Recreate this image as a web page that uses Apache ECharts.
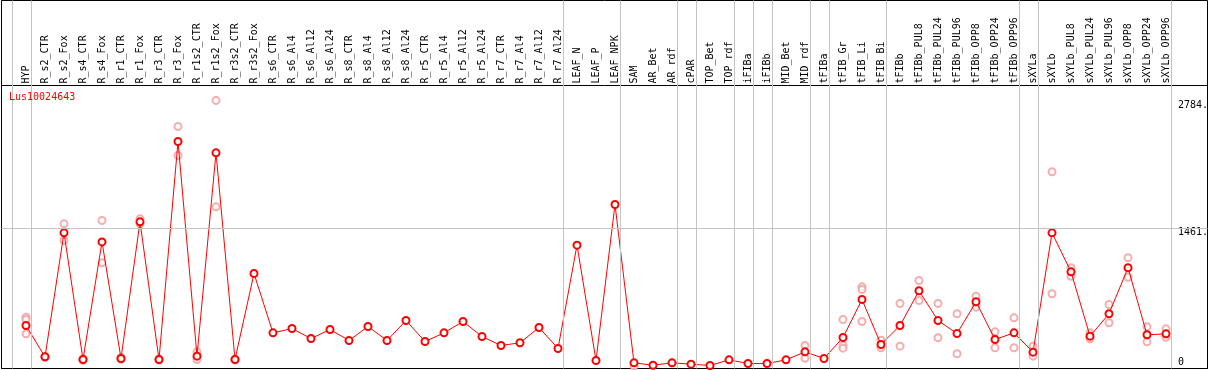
<!DOCTYPE html>
<html>
<head>
<meta charset="utf-8">
<script src="https://cdn.jsdelivr.net/npm/echarts@6/dist/echarts.min.js"></script>
<style>
html,body{margin:0;padding:0;background:#fff;}
#chart{width:1209px;height:370px;}
</style>
</head>
<body>
<div id="chart"></div>
<script>
const geneName = 'Lus10024643';

const categories = ['HYP','R_s2_CTR','R_s2_Fox','R_s4_CTR','R_s4_Fox','R_r1_CTR','R_r1_Fox','R_r3_CTR','R_r3_Fox','R_r1s2_CTR','R_r1s2_Fox','R_r3s2_CTR','R_r3s2_Fox','R_s6_CTR','R_s6_Al4','R_s6_Al12','R_s6_Al24','R_s8_CTR','R_s8_Al4','R_s8_Al12','R_s8_Al24','R_r5_CTR','R_r5_Al4','R_r5_Al12','R_r5_Al24','R_r7_CTR','R_r7_Al4','R_r7_Al12','R_r7_Al24','LEAF_N','LEAF_P','LEAF_NPK','SAM','AR_Bet','AR_rdf','cPAR','TOP_Bet','TOP_rdf','iFIBa','iFIBb','MID_Bet','MID_rdf','tFIBa','tFIB_Gr','tFIB_Li','tFIB_Bi','tFIBb','tFIBb_PUL8','tFIBb_PUL24','tFIBb_PUL96','tFIBb_OPP8','tFIBb_OPP24','tFIBb_OPP96','sXYLa','sXYLb','sXYLb_PUL8','sXYLb_PUL24','sXYLb_PUL96','sXYLb_OPP8','sXYLb_OPP24','sXYLb_OPP96'];

const means = [446,121,1409,93,1315,104,1523,93,2357,128,2240,93,986,370,415,311,405,291,436,291,498,280,370,488,332,239,267,426,208,1281,83,1703,59,34,59,45,31,90,52,52,90,173,104,322,716,249,446,807,498,363,693,301,370,170,1409,1004,336,568,1046,350,360];

const replicates = [
  [533,509,360],[115,128],[1502,1329],[85,100],[1537,1097],[96,112],[1554,1502],[88,98],[2513,2212],[173,93],[2784,1679],[88,98],[],
  [],[],[],[],[],[],[],[],[],[],[],[],[],[],[],[],
  [],[],[],
  [24],[],[],[],[],[],[],[],[],[239,107],
  [],[509,242,211],[848,820,488],[294,215],
  [675,232],[914,706],[675,319],[568,153],[751,637],[381,215],[526,215],
  [232,128],[2043,776],[1046,958],[370,308],[665,475],[1150,948],[433,277],[412,325]
];

const yLabelValues = [0, 1461, 2784];
const referenceValue = 1461;
// index of last category in each group (a separator follows it)
const groupEnds = [-1, 0, 28, 31, 34, 35, 37, 38, 39, 41, 42, 45, 52, 53, 60];

// ---- layout ----
const FONT = 'DejaVu Sans Mono';
const band = 19, firstCenter = 26;
const boxL = 1.5, boxR = 1207.5, boxT = 0.5, boxB = 368.5, headerY = 85.5;
const yMax = 2939;
const vMin = (boxL - firstCenter) / band;
const vMax = (boxR - firstCenter) / band;
const catLeft = firstCenter - band / 2;
const catRight = 1209 - (catLeft + band * categories.length);

const repData = [];
replicates.forEach((arr, i) => arr.forEach(v => repData.push([i, v])));

const chart = echarts.init(document.getElementById('chart'), null, {renderer: 'canvas'});
chart.setOption({
  animation: false,
  backgroundColor: '#fff',
  title: {
    text: geneName, left: 9, top: 92, padding: 0,
    textStyle: {color: '#ff0000', fontFamily: FONT, fontSize: 10, fontWeight: 'normal'}
  },
  grid: [
    {left: boxL, right: 1209 - boxR, top: boxT, bottom: 370 - boxB, show: true, borderColor: '#000', borderWidth: 1, backgroundColor: 'transparent', outerBoundsMode: 'none', containLabel: false},
    {left: boxL, right: 1209 - boxR, top: headerY, bottom: 370 - boxB, show: true, borderColor: '#000', borderWidth: 1, backgroundColor: 'transparent', outerBoundsMode: 'none', containLabel: false},
    {left: catLeft, right: catRight, top: headerY, bottom: 370 - boxB, show: false, outerBoundsMode: 'none', containLabel: false}
  ],
  xAxis: [
    {gridIndex: 0, type: 'value', min: vMin, max: vMax, show: false},
    {gridIndex: 1, type: 'value', min: vMin, max: vMax, show: false},
    {gridIndex: 2, type: 'category', data: categories, position: 'top', boundaryGap: true,
     axisLine: {show: false}, axisTick: {show: false}, splitLine: {show: false},
     axisLabel: {interval: 0, rotate: 90, margin: 2, color: '#000', fontFamily: FONT, fontSize: 10}}
  ],
  yAxis: [
    {gridIndex: 0, type: 'value', min: 0, max: 1, show: false},
    {gridIndex: 1, type: 'value', min: 0, max: yMax, position: 'right',
     axisLine: {show: false}, axisTick: {show: false}, splitLine: {show: false},
     axisLabel: {
       inside: true, margin: 29.5, align: 'left', color: '#000', fontFamily: FONT, fontSize: 10,
       customValues: yLabelValues,
       formatter: v => v === 0 ? '{z|0}' : '{n|' + v + '.}',
       rich: {
         n: {fontFamily: FONT, fontSize: 10, color: '#000', padding: [10, 0, 0, 0]},
         z: {fontFamily: FONT, fontSize: 10, color: '#000', padding: [0, 0, 13, 0]}
       }
     }},
    {gridIndex: 2, type: 'value', min: 0, max: yMax, show: false}
  ],
  series: [
    {
      name: 'separators', type: 'line', xAxisIndex: 0, yAxisIndex: 0, data: [], z: 1, silent: true,
      markLine: {
        silent: true, symbol: ['none', 'none'], label: {show: false},
        lineStyle: {color: '#c4c4c4', width: 1, type: 'solid'},
        data: groupEnds.map(i => ({xAxis: i + 0.25}))
      }
    },
    {
      name: 'reference', type: 'line', xAxisIndex: 1, yAxisIndex: 1, data: [], z: 1, silent: true,
      markLine: {
        silent: true, symbol: ['none', 'none'], label: {show: false},
        lineStyle: {color: '#c4c4c4', width: 1, type: 'solid'},
        data: [{yAxis: referenceValue}]
      }
    },
    {
      name: 'replicates', type: 'scatter', xAxisIndex: 2, yAxisIndex: 2, z: 3,
      data: repData, symbol: 'emptyCircle', symbolSize: 7,
      itemStyle: {color: '#f29a9a', borderColor: '#f29a9a', borderWidth: 1.5}
    },
    {
      name: 'mean', type: 'line', xAxisIndex: 2, yAxisIndex: 2, z: 4,
      data: means, symbol: 'emptyCircle', symbolSize: 7, showAllSymbol: true,
      lineStyle: {color: '#ff0000', width: 1},
      itemStyle: {color: '#ff0000', borderColor: '#ff0000', borderWidth: 2}
    }
  ]
});
</script>
</body>
</html>
